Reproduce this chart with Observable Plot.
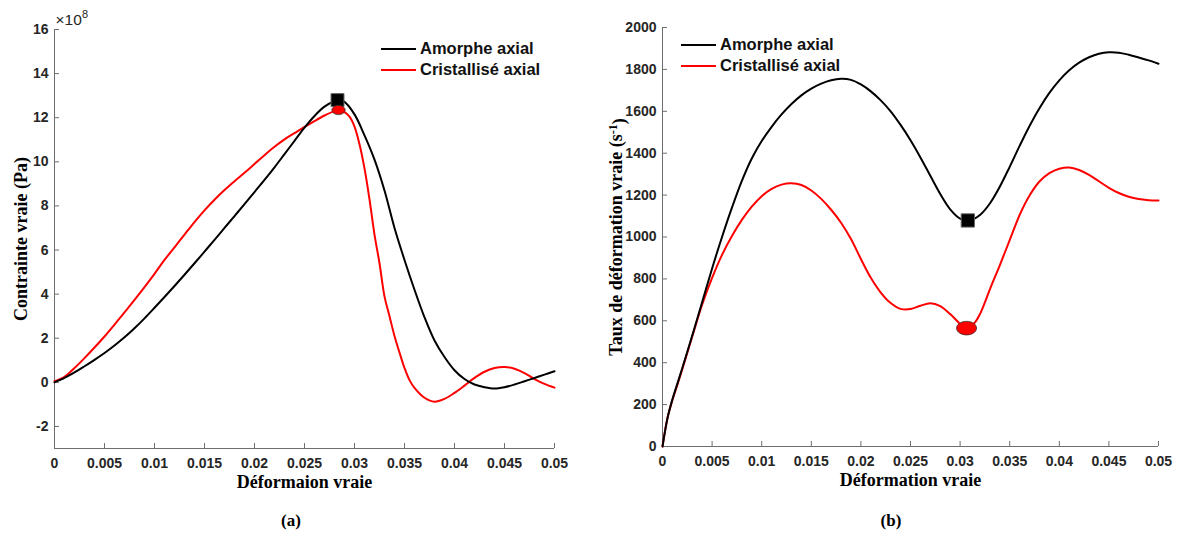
<!DOCTYPE html>
<html>
<head>
<meta charset="utf-8">
<script src="https://cdn.jsdelivr.net/npm/d3@7"></script>
<script src="https://cdn.jsdelivr.net/npm/@observablehq/plot@0.6"></script>
<style>
  html, body { margin: 0; padding: 0; background: #fff; }
  body { width: 1178px; height: 540px; position: relative; overflow: hidden; font-family: "Liberation Sans", Arial, sans-serif; }
  .panel { position: absolute; top: 0; }
  .legend { position: absolute; font-weight: bold; font-size: 16.5px; color: #111; }
  .legend .row { display: flex; align-items: center; height: 21px; white-space: nowrap; }
  .legend .sw { width: 35px; height: 2px; margin-right: 4px; }
  .cap { position: absolute; top: 511px; font-family: "Liberation Serif", "Times New Roman", serif; font-weight: bold; font-size: 17px; color: #000; transform: translateX(-50%); }
</style>
</head>
<body>
<div id="pa" class="panel" style="left:0px"></div>
<div id="pb" class="panel" style="left:590px"></div>
<div id="la" class="legend" style="left:381px; top:38px"></div>
<div id="lb" class="legend" style="left:681px; top:34px"></div>
<div class="cap" style="left:291px">(a)</div>
<div class="cap" style="left:891px">(b)</div>
<script>
// ---------- data ----------
const seriesNames = ["Amorphe axial", "Cristallisé axial"];
const seriesColors = ["#000000", "#ff0000"];

const xTicks = [0, 0.005, 0.01, 0.015, 0.02, 0.025, 0.03, 0.035, 0.04, 0.045, 0.05];
const yTicksA = [-2, 0, 2, 4, 6, 8, 10, 12, 14, 16];
const yTicksB = [0, 200, 400, 600, 800, 1000, 1200, 1400, 1600, 1800, 2000];

// Panel (a): contrainte vraie (x 1e8 Pa) vs déformation vraie
const strainAmA = [0, 0.001, 0.002, 0.003, 0.004, 0.005, 0.006, 0.007, 0.008, 0.009, 0.010, 0.011, 0.012, 0.013, 0.014, 0.015, 0.016, 0.017, 0.018, 0.019, 0.020, 0.021, 0.022, 0.023, 0.024, 0.025, 0.026, 0.027, 0.028, 0.0285, 0.029, 0.030, 0.031, 0.032, 0.033, 0.034, 0.035, 0.036, 0.037, 0.038, 0.039, 0.040, 0.041, 0.042, 0.043, 0.044, 0.045, 0.046, 0.047, 0.048, 0.049, 0.050];
const stressAmA = [0, 0.2, 0.45, 0.73, 1.02, 1.33, 1.67, 2.04, 2.45, 2.9, 3.38, 3.87, 4.37, 4.88, 5.4, 5.93, 6.46, 7.0, 7.54, 8.08, 8.63, 9.18, 9.75, 10.35, 10.95, 11.55, 12.08, 12.5, 12.75, 12.8, 12.72, 12.15, 11.2, 10.1, 8.7, 7.0, 5.55, 4.2, 2.95, 1.9, 1.15, 0.55, 0.15, -0.1, -0.22, -0.28, -0.22, -0.1, 0.05, 0.2, 0.35, 0.5];
const strainCrA = [0, 0.001, 0.002, 0.003, 0.004, 0.005, 0.006, 0.007, 0.008, 0.009, 0.010, 0.011, 0.012, 0.013, 0.014, 0.015, 0.016, 0.017, 0.018, 0.019, 0.020, 0.021, 0.022, 0.023, 0.024, 0.025, 0.026, 0.027, 0.028, 0.0285, 0.029, 0.0295, 0.030, 0.0305, 0.031, 0.0315, 0.032, 0.0325, 0.033, 0.0335, 0.034, 0.0345, 0.035, 0.0355, 0.036, 0.037, 0.038, 0.039, 0.040, 0.041, 0.042, 0.043, 0.044, 0.045, 0.046, 0.047, 0.048, 0.049, 0.050];
const stressCrA = [0.05, 0.25, 0.65, 1.1, 1.58, 2.08, 2.62, 3.17, 3.74, 4.32, 4.92, 5.55, 6.12, 6.7, 7.27, 7.8, 8.28, 8.72, 9.12, 9.5, 9.9, 10.3, 10.68, 11.02, 11.3, 11.58, 11.85, 12.1, 12.3, 12.35, 12.25, 12.05, 11.6, 10.8, 9.7, 8.3, 6.7, 5.4, 3.9, 3.0, 2.1, 1.35, 0.65, 0.1, -0.25, -0.7, -0.88, -0.75, -0.48, -0.15, 0.2, 0.48, 0.65, 0.7, 0.62, 0.42, 0.15, -0.07, -0.24];
const peakStrainAmA = [0.0283], peakStressAmA = [12.8];
const peakStrainCrA = [0.0284], peakStressCrA = [12.35];

// Panel (b): taux de déformation vraie (s^-1) vs déformation vraie
const strainAmB = [0, 0.0005, 0.001, 0.0015, 0.002, 0.003, 0.004, 0.005, 0.006, 0.007, 0.008, 0.009, 0.010, 0.011, 0.012, 0.013, 0.014, 0.015, 0.016, 0.017, 0.018, 0.019, 0.020, 0.021, 0.022, 0.023, 0.024, 0.025, 0.026, 0.027, 0.028, 0.029, 0.030, 0.031, 0.032, 0.033, 0.034, 0.035, 0.036, 0.037, 0.038, 0.039, 0.040, 0.041, 0.042, 0.043, 0.044, 0.045, 0.046, 0.047, 0.048, 0.049, 0.050];
const rateAmB = [0, 135, 225, 300, 375, 530, 690, 850, 1000, 1140, 1268, 1375, 1458, 1526, 1585, 1635, 1676, 1708, 1732, 1748, 1755, 1750, 1728, 1695, 1652, 1600, 1535, 1462, 1380, 1292, 1205, 1132, 1088, 1080, 1105, 1160, 1240, 1335, 1435, 1530, 1615, 1688, 1748, 1796, 1832, 1858, 1875, 1882, 1880, 1870, 1857, 1843, 1827];
const strainCrB = [0, 0.0005, 0.001, 0.0015, 0.002, 0.003, 0.004, 0.005, 0.006, 0.007, 0.008, 0.009, 0.010, 0.011, 0.012, 0.013, 0.014, 0.015, 0.016, 0.017, 0.018, 0.019, 0.020, 0.021, 0.022, 0.023, 0.024, 0.025, 0.026, 0.027, 0.028, 0.029, 0.030, 0.0305, 0.031, 0.0315, 0.032, 0.0325, 0.033, 0.034, 0.035, 0.036, 0.037, 0.038, 0.039, 0.040, 0.041, 0.042, 0.043, 0.044, 0.045, 0.046, 0.047, 0.048, 0.049, 0.050];
const rateCrB = [0, 135, 222, 295, 370, 525, 678, 805, 915, 1005, 1082, 1145, 1195, 1230, 1250, 1256, 1248, 1222, 1182, 1130, 1068, 990, 895, 805, 735, 685, 657, 656, 672, 684, 670, 632, 585, 567, 572, 592, 632, 688, 750, 865, 985, 1105, 1198, 1265, 1305, 1326, 1332, 1320, 1297, 1266, 1235, 1210, 1192, 1181, 1176, 1174];
const minStrainAmB = [0.03078], minRateAmB = [1079];
const minStrainCrB = [0.03065], minRateCrB = [565];

// ---------- helpers ----------
const rows = (xs, ys) => xs.map((x, i) => ({x, y: ys[i]}));
const ellipse = (fx, fy) => ({
  draw(ctx, size) {
    const r = Math.sqrt(size / Math.PI), rx = r * fx, ry = r * fy, k = 0.5523;
    ctx.moveTo(rx, 0);
    ctx.bezierCurveTo(rx, ry * k, rx * k, ry, 0, ry);
    ctx.bezierCurveTo(-rx * k, ry, -rx, ry * k, -rx, 0);
    ctx.bezierCurveTo(-rx, -ry * k, -rx * k, -ry, 0, -ry);
    ctx.bezierCurveTo(rx * k, -ry, rx, -ry * k, rx, 0);
    ctx.closePath();
  }
});
const axisStroke = "#6e6e6e";
const serif = '"Liberation Serif", "Times New Roman", serif';
const sans = '"Liberation Sans", Arial, sans-serif';
const baseStyle = {fontFamily: sans, fontSize: "14px", fontWeight: "bold", color: "#262626", background: "white", overflow: "visible"};
const labelStyle = {fontFamily: serif, fontSize: 18, fontWeight: "bold", fill: "#000", textAnchor: "middle", lineAnchor: "middle"};

function axes(yTicks, yMin) {
  return [
    Plot.ruleY([yMin], {stroke: axisStroke, strokeWidth: 1}),
    Plot.ruleX([0], {stroke: axisStroke, strokeWidth: 1}),
    Plot.axisX(xTicks, {tickSize: -5, stroke: axisStroke, fill: "none", label: null}),
    Plot.axisX(xTicks, {tickSize: 0, tickPadding: 10, tickFormat: d => String(d), label: null}),
    Plot.axisY(yTicks, {tickSize: -5, stroke: axisStroke, fill: "none", label: null}),
    Plot.axisY(yTicks, {tickSize: 0, tickPadding: 6, tickFormat: d => String(d), label: null})
  ];
}

// ---------- panel (a) ----------
const plotA = Plot.plot({
  width: 580, height: 500,
  marginLeft: 54, marginRight: 26, marginTop: 29, marginBottom: 52,
  style: baseStyle,
  x: {domain: [0, 0.05]},
  y: {domain: [-3, 16]},
  marks: [
    ...axes(yTicksA, -3),
    Plot.line(rows(strainCrA, stressCrA), {x: "x", y: "y", stroke: seriesColors[1], strokeWidth: 2, curve: "catmull-rom"}),
    Plot.line(rows(strainAmA, stressAmA), {x: "x", y: "y", stroke: seriesColors[0], strokeWidth: 2, curve: "catmull-rom"}),
    Plot.dot(rows(peakStrainAmA, peakStressAmA), {x: "x", y: "y", symbol: "square", r: 7.3, fill: "#000", stroke: "#666", strokeWidth: 1}),
    Plot.dot(rows(peakStrainCrA, peakStressCrA), {x: "x", y: "y", symbol: ellipse(1.25, 0.87), r: 5.3, fill: "#ff0000", stroke: "#333", strokeWidth: 0.8}),
    Plot.text(["Contrainte vraie (Pa)"], {frameAnchor: "left", dx: -33, rotate: -90, ...labelStyle}),
    Plot.text(["Déformaion vraie"], {frameAnchor: "bottom", dy: 34, ...labelStyle}),
    Plot.text(["×10"], {frameAnchor: "top-left", textAnchor: "start", lineAnchor: "middle", dx: 1, dy: -9, fontWeight: "normal", fontSize: 15.5, fill: "#262626"}),
    Plot.text(["8"], {frameAnchor: "top-left", textAnchor: "start", lineAnchor: "middle", dx: 27.5, dy: -15, fontWeight: "normal", fontSize: 11, fill: "#262626"})
  ]
});
document.getElementById("pa").append(plotA);

// ---------- panel (b) ----------
const plotB = Plot.plot({
  width: 588, height: 500,
  marginLeft: 72, marginRight: 20, marginTop: 27, marginBottom: 54,
  style: baseStyle,
  x: {domain: [0, 0.05]},
  y: {domain: [0, 2000]},
  marks: [
    ...axes(yTicksB, 0),
    Plot.line(rows(strainCrB, rateCrB), {x: "x", y: "y", stroke: seriesColors[1], strokeWidth: 2, curve: "catmull-rom"}),
    Plot.line(rows(strainAmB, rateAmB), {x: "x", y: "y", stroke: seriesColors[0], strokeWidth: 2, curve: "catmull-rom"}),
    Plot.dot(rows(minStrainAmB, minRateAmB), {x: "x", y: "y", symbol: "square", r: 7.5, fill: "#000", stroke: "#666", strokeWidth: 1}),
    Plot.dot(rows(minStrainCrB, minRateCrB), {x: "x", y: "y", symbol: ellipse(1.25, 0.85), r: 8, fill: "#ff0000", stroke: "#333", strokeWidth: 0.8}),
    Plot.text(["Taux de déformation vraie (s-1)"], {frameAnchor: "left", dx: -46, rotate: -90, ...labelStyle}),
    Plot.text(["Déformation vraie"], {frameAnchor: "bottom", dy: 34, ...labelStyle})
  ]
});
document.getElementById("pb").append(plotB);

// superscript for s^-1
d3.select(plotB).selectAll("text").filter(function () { return this.textContent === "Taux de déformation vraie (s-1)"; })
  .each(function () {
    const t = d3.select(this);
    t.text(null);
    t.append("tspan").text("Taux de déformation vraie (s");
    t.append("tspan").attr("dy", "-0.45em").attr("font-size", "12").text("-1");
    t.append("tspan").attr("dy", "0.45em").text(")");
  });

// ---------- legends ----------
function legend(id) {
  const el = document.getElementById(id);
  seriesNames.forEach((name, i) => {
    const row = document.createElement("div");
    row.className = "row";
    const sw = document.createElement("div");
    sw.className = "sw";
    sw.style.background = seriesColors[i];
    const lab = document.createElement("span");
    lab.textContent = name;
    row.append(sw, lab);
    el.append(row);
  });
}
legend("la");
legend("lb");
</script>
</body>
</html>
